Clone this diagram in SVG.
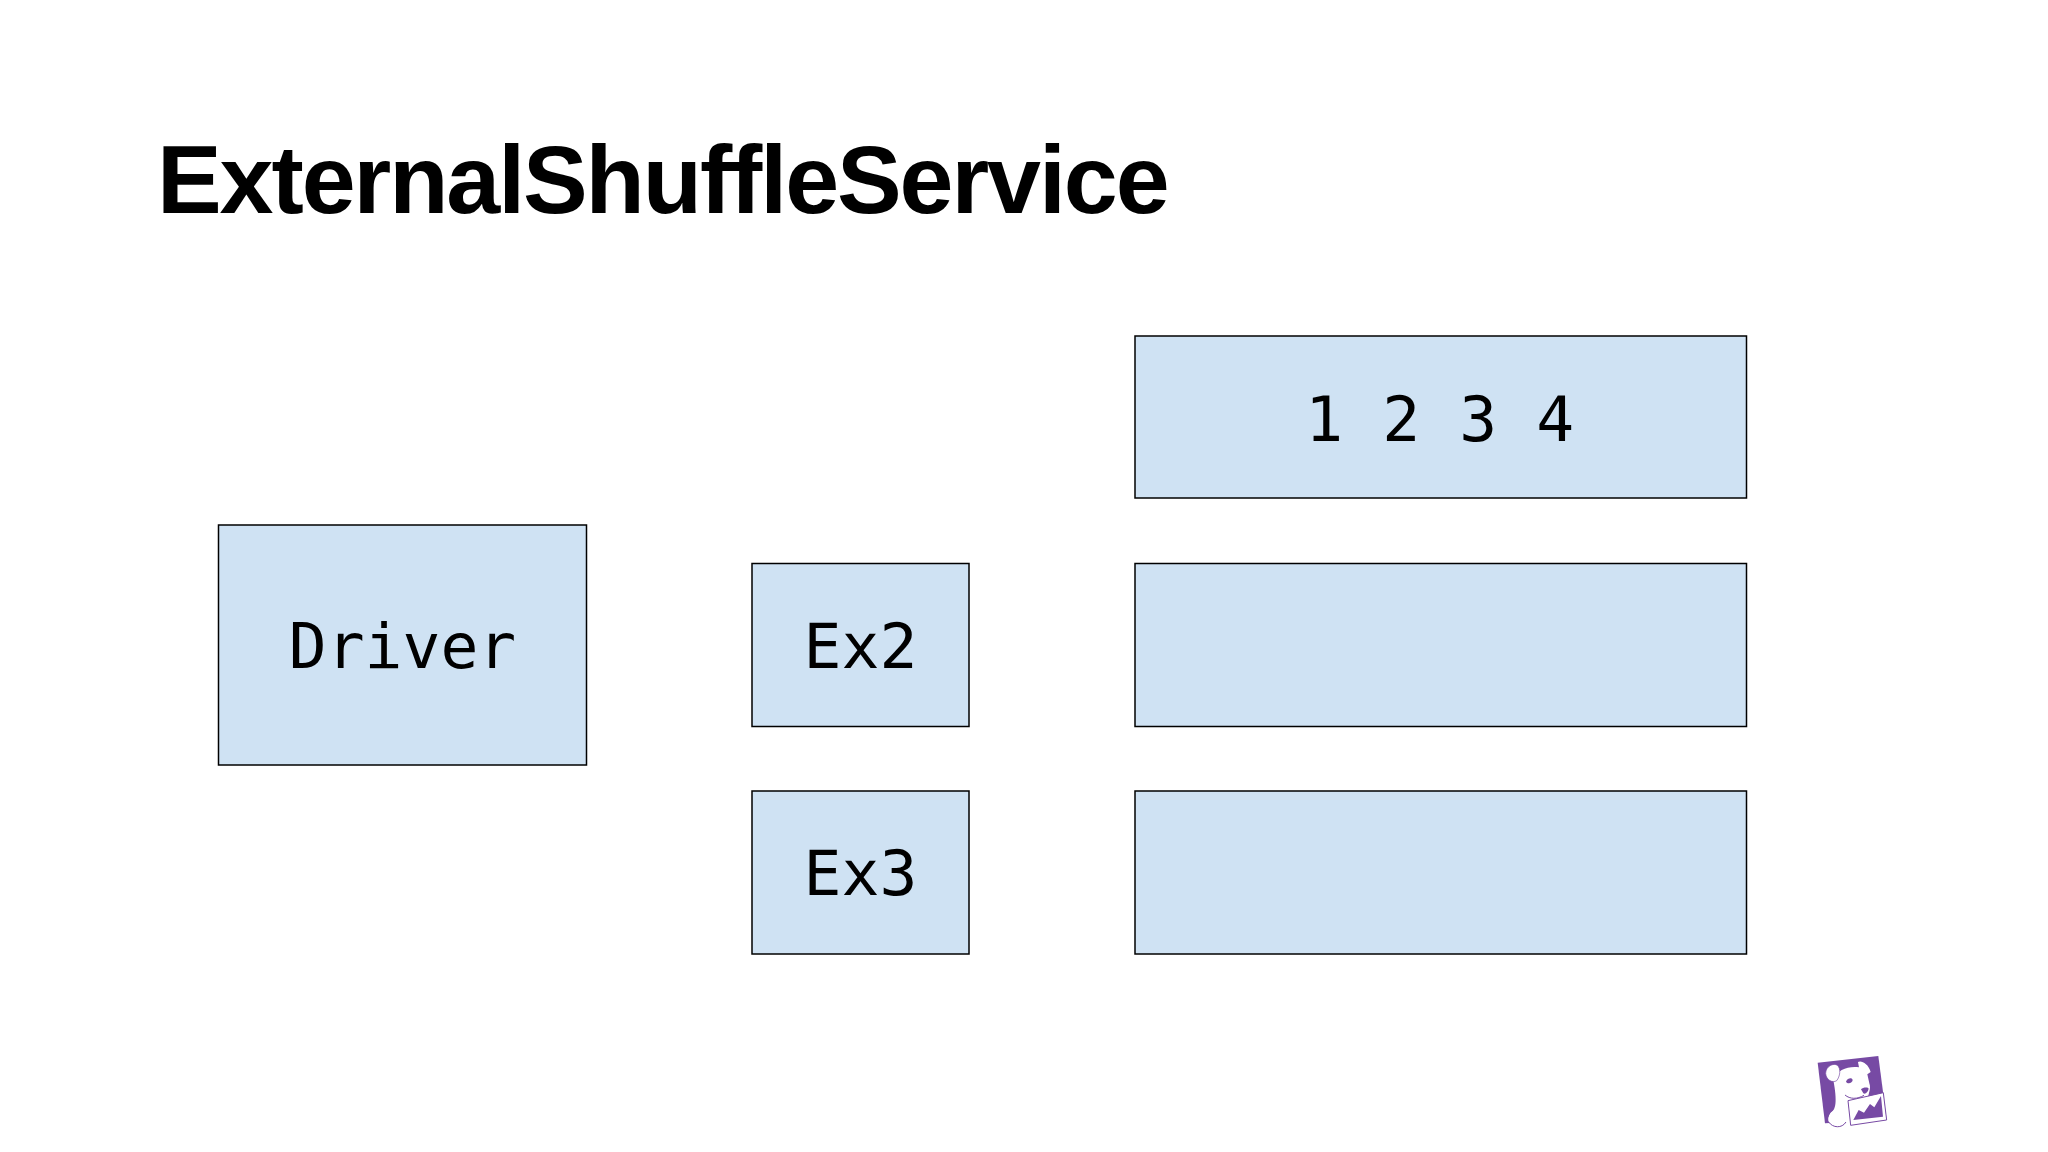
<svg xmlns="http://www.w3.org/2000/svg" width="2048" height="1152" viewBox="0 0 2048 1152">
<style>
.box{fill:#cfe2f3;stroke:#000;stroke-width:1.5}
.mono{font-family:"DejaVu Sans Mono","Liberation Mono",monospace;font-size:63px;fill:#000;text-anchor:middle}
.title{font-family:"Liberation Sans",Arial,sans-serif;font-weight:700;font-size:97px;letter-spacing:-2.1px;fill:#000}
</style>
<rect width="2048" height="1152" fill="#fff"/>
<text class="title" x="157" y="213">ExternalShuffleService</text>
<g id="driver"><rect class="box" x="218.500" y="525" width="368" height="240"/><text class="mono" x="402.500" y="668">Driver</text></g>
<g id="ex2"><rect class="box" x="752" y="563.500" width="217" height="163"/><text class="mono" x="860.500" y="668">Ex2</text></g>
<g id="ex3"><rect class="box" x="752" y="791" width="217" height="163"/><text class="mono" x="860.500" y="895">Ex3</text></g>
<g id="store1"><rect class="box" x="1135" y="336" width="611.500" height="162"/><text class="mono" x="1440" y="441" style="letter-spacing:.6px">1 2 3 4</text></g>
<g id="store2"><rect class="box" x="1135" y="563.500" width="611.500" height="163"/></g>
<g id="store3"><rect class="box" x="1135" y="791" width="611.500" height="163"/></g>
<g id="connectors"/>
<g id="logo" transform="translate(1780 1030) scale(.3333)">
<path d="M113 98L295 78L320 270L135 280Z" fill="#774aa4"/>
<path d="M160 150C172 118 205 108 237 112L234 96C243 90 265 100 272 126L262 133L268 160C275 178 262 196 264 210L205 218L212 280L170 298C150 290 136 270 152 248C168 240 172 215 160 150Z" fill="#fff"/>
<path d="M137 130C137 108 162 98 172 106C184 116 180 140 170 152C158 160 138 150 137 130Z" fill="#fff" stroke="#774aa4" stroke-width="2"/>
<path d="M198 155C203 144 216 142 218 150C218 158 204 164 198 155ZM243 178C250 170 266 172 266 176C264 186 256 194 250 190Z" fill="#774aa4"/>
<path d="M195 195C210 208 232 208 252 196" fill="none" stroke="#774aa4" stroke-width="3"/>
<path d="M204 212L310 188L320 270L212 286Z" fill="#fff" stroke="#774aa4" stroke-width="3"/>
<path d="M220 270L236 240L252 248L270 222L283 232L303 198L309 260Z" fill="#774aa4"/>
<path d="M172 236C148 242 138 270 152 282C170 298 198 290 198 270C198 252 190 238 172 236Z" fill="#fff"/>
<path d="M146 276C158 294 186 296 198 276" fill="none" stroke="#774aa4" stroke-width="3"/>
</g>
</svg>
